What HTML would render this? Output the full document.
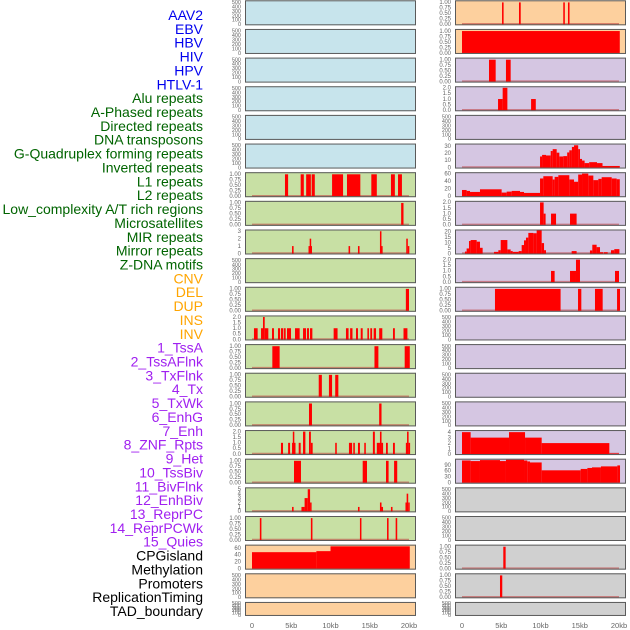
<!DOCTYPE html>
<html><head><meta charset="utf-8">
<style>
html,body{margin:0;padding:0;background:#fff;}
svg{display:block;font-family:"Liberation Sans",sans-serif;}
</style></head>
<body>
<svg id="chart" width="630" height="630" viewBox="0 0 630 630"></svg>
<script>
// ---------- data ----------
const trackLabels = ["AAV2","EBV","HBV","HIV","HPV","HTLV-1","Alu repeats","A-Phased repeats","Directed repeats","DNA transposons","G-Quadruplex forming repeats","Inverted repeats","L1 repeats","L2 repeats","Low_complexity A/T rich regions","Microsatellites","MIR repeats","Mirror repeats","Z-DNA motifs","CNV","DEL","DUP","INS","INV","1_TssA","2_TssAFlnk","3_TxFlnk","4_Tx","5_TxWk","6_EnhG","7_Enh","8_ZNF_Rpts","9_Het","10_TssBiv","11_BivFlnk","12_EnhBiv","13_ReprPC","14_ReprPCWk","15_Quies","CPGisland","Methylation","Promoters","ReplicationTiming","TAD_boundary"];
const labelColors = ["#0000ee","#0000ee","#0000ee","#0000ee","#0000ee","#0000ee","#006400","#006400","#006400","#006400","#006400","#006400","#006400","#006400","#006400","#006400","#006400","#006400","#006400","#ffa500","#ffa500","#ffa500","#ffa500","#ffa500","#a020f0","#a020f0","#a020f0","#a020f0","#a020f0","#a020f0","#a020f0","#a020f0","#a020f0","#a020f0","#a020f0","#a020f0","#a020f0","#a020f0","#a020f0","#000","#000","#000","#000","#000"];
const xTicks = [0,5,10,15,20];
const xTickLabels = ["0","5kb","10kb","15kb","20kb"];

// left column bars [startKb, endKb, value]
const L6 = [[4.2,4.6,1],[6.2,6.6,1],[6.9,7.5,1],[7.6,8.0,1],[10.2,11.6,1],[12.1,13.8,1],[15.2,15.9,1],[17.7,18.2,1],[18.6,19.1,1]];
const L7 = [[19.0,19.3,1]];
const L8 = [[5.1,5.3,1],[7.2,7.35,1],[7.35,7.45,2],[7.45,7.6,1],[12.3,12.5,1],[13.5,13.7,1],[16.3,16.45,3],[16.45,16.6,1],[19.65,19.85,2],[19.85,19.95,1]];
const L10 = [[19.6,20.0,1]];
const L11 = [[0.25,0.72,1],[1.15,1.4,1],[1.4,1.62,2],[1.62,2.08,1],[2.55,2.8,1],[3.31,3.57,1],[3.69,3.99,1],[4.08,4.29,1],[4.46,4.97,1],[5.48,6.07,1],[6.5,6.88,1],[7.0,7.26,1],[7.39,7.69,1],[10.4,10.9,1],[11.97,12.3,1],[12.5,12.8,1],[13.25,13.5,1],[13.85,14.1,1],[14.7,14.9,1],[15.07,15.3,1],[15.5,15.8,1],[16.2,16.6,1],[17.96,18.2,1],[19.3,19.8,1]];
const L12 = [[2.59,3.52,1],[15.6,16.1,1],[19.45,20.1,1]];
const L13 = [[8.5,8.9,1],[9.8,10.2,1],[10.6,11.0,1]];
const L14 = [[7.26,7.64,1],[16.2,16.5,1]];
const L15 = [[3.69,3.95,1],[4.6,4.85,1],[5.1,5.2,1],[5.2,5.35,2],[5.35,5.4,1],[5.95,6.2,1],[6.5,6.8,2],[7.26,7.5,2],[7.5,7.73,1],[10.6,10.8,1],[12.35,12.75,1],[12.9,13.1,1],[13.5,13.75,1],[14.3,14.5,1],[15.4,15.65,2],[15.9,16.3,1],[16.3,16.5,2],[16.5,16.7,1],[17.07,17.3,1],[17.96,18.2,1],[19.6,19.75,1],[19.75,19.95,2],[19.95,20.1,1]];
const L16 = [[5.35,6.24,1],[14.1,14.65,1],[17.07,17.4,1],[18.1,18.5,1]];
const L17 = [[5.1,5.3,1],[6.3,6.7,1],[6.7,7.1,3],[7.1,7.4,5],[7.4,7.55,2],[13.5,13.7,1],[16.3,16.5,2],[16.5,16.6,1],[17.7,17.9,1],[19.55,19.7,2],[19.7,19.9,4],[19.9,20.0,2]];
const L18 = [[1.0,1.2,1],[7.5,7.7,1],[13.75,13.9,1],[17.2,17.4,1],[18.3,18.5,1]];
const L19 = [[0,8.2,48],[8.2,10,51],[10,20.1,65]];

// right column bars
const R0 = [[5.1,5.3,1],[7.26,7.48,1],[12.9,13.1,1],[13.5,13.7,1]];
const R1 = [[0,20.1,1]];
const R2 = [[3.44,4.29,1],[5.6,6.2,1]];
const R3 = [[4.59,5.18,1],[5.18,5.78,2],[8.8,9.4,1]];
const R5 = [[9.94,10.2,15.4],[10.2,10.7,17.6],[10.7,11.3,16.8],[11.3,11.55,23],[11.55,12.06,25.6],[12.06,12.4,20.7],[12.4,12.9,15.4],[12.9,13.4,15.9],[13.4,13.67,21],[13.67,14.0,24],[14.0,14.27,28.7],[14.27,14.8,31],[14.8,15.03,25.6],[15.03,15.29,12],[15.29,15.62,9.7],[15.62,16.2,6.2],[16.2,17.2,7.5],[17.2,17.9,6.2],[17.9,20.1,2.2]];
const R6 = [[0,0.59,16.5],[0.59,1.02,14],[1.02,2.29,11.3],[2.29,5.05,18.3],[5.05,5.69,9.6],[5.69,6.33,12.2],[6.33,7.39,14],[7.39,7.9,11.3],[7.9,9.94,8.7],[9.94,10.36,47],[10.36,11.55,53],[11.55,11.8,44.3],[11.8,12.27,51.3],[12.27,13.67,55.7],[13.67,14.27,44.3],[14.27,14.8,38.3],[14.8,15.29,57.4],[15.29,16.09,60],[16.09,16.73,54.8],[16.73,17.37,42.6],[17.37,17.79,46],[17.79,19.07,50.4],[19.07,19.7,47],[19.7,20.1,45]];
const R7 = [[9.94,10.4,2],[10.4,10.65,1],[11.34,11.98,1],[13.76,14.6,1]];
const R8 = [[0.38,0.59,1.8],[0.59,0.89,4.6],[0.89,1.1,11.4],[1.1,1.87,12.3],[1.87,2.29,10.8],[2.29,2.63,5.2],[4.08,4.63,1.5],[4.63,4.93,3],[4.93,5.78,12.3],[5.78,6.2,3.7],[6.2,6.46,2.2],[6.46,7.22,1.5],[7.22,7.6,2.2],[7.6,7.9,7.7],[7.9,8.15,12],[8.15,8.45,14.5],[8.45,9.09,18.8],[9.09,9.51,18.5],[9.51,10.15,21],[10.15,10.45,9.5],[10.45,10.7,3],[13.97,14.6,2.2],[16.3,16.6,2.8],[16.6,17.15,8],[17.15,17.58,5.8],[17.58,18.0,1.2],[18.09,18.56,1.2],[18.98,19.4,3],[19.4,20.05,4]];
const R9 = [[11.34,11.8,1],[13.76,14.52,1],[14.52,15.03,2],[19.49,20.0,1]];
const R10 = [[4.2,12.56,1],[14.78,15.2,1],[16.94,17.92,1],[19.75,20.13,1]];
const R15 = [[0,1.1,4],[1.1,5.99,3],[5.99,8.03,4],[8.03,10.15,3],[10.15,18.77,2],[18.77,20,0.1]];
const R16 = [[0,1.1,113],[1.1,2.29,110],[2.29,4.84,115],[4.84,5.6,110],[5.6,7.9,117],[7.9,8.32,113],[8.32,8.66,108],[8.66,10.15,103],[10.15,15.12,63],[15.12,15.97,70],[15.97,16.56,75],[16.56,17.7,78],[17.7,19.79,83],[19.79,20.13,88]];
const R19 = [[5.26,5.56,1]];
const R20 = [[4.84,5.13,1]];

// y-axis configs: [ymax, ticks]
const T1 = [1.05,[0,0.25,0.5,0.75,1],2];
const T2 = [2.05,[0,0.5,1,1.5,2],1];
const TE = [520,[0,100,200,300,400,500],0];

const leftTracks = [null,null,null,null,null,null,L6,L7,L8,null,L10,L11,L12,L13,L14,L15,L16,L17,L18,L19,null,null];
const leftAxes = [TE,TE,TE,TE,TE,TE,T1,T1,[3.1,[0,1,2,3],0],TE,T1,T2,T1,T1,T1,T2,T1,[5.2,[0,1,2,3,4,5],0],T1,[67,[0,20,40,60],0],TE,TE];
const rightTracks = [R0,R1,R2,R3,null,R5,R6,R7,R8,R9,R10,null,null,null,null,R15,R16,null,null,R19,R20,null];
const rightAxes = [T1,T1,T1,T2,TE,[32,[0,10,20,30],0],[61,[0,20,40,60],0],T2,[21,[0,5,10,15,20],0],T2,T1,TE,TE,TE,TE,[4.2,[0,1,2,3,4],0],[117,[0,30,60,90],0],TE,TE,T1,T1,TE];

const leftBg = i => i<6 ? "#c7e4ec" : (i<19 ? "#c8e0a4" : "#fdd09e");
const rightBg = i => i<2 ? "#fdd09e" : (i<17 ? "#d5c6e2" : "#d0d0d0");

// ---------- drawing ----------
const svg = document.getElementById('chart');
const NS = "http://www.w3.org/2000/svg";
function mk(tag, attrs, parent){
  const e = document.createElementNS(NS, tag);
  for (const k in attrs) e.setAttribute(k, attrs[k]);
  (parent||svg).appendChild(e);
  return e;
}
const KB = 7.85;
const rowTop = i => 0.3 + 28.65*i;
const rowH = i => i===21 ? 14 : 25;

// labels
const labelPitch = (611-15)/(trackLabels.length-1);
trackLabels.forEach((t,i)=>{
  const e = mk('text',{x:203,y:15+labelPitch*i+5,'text-anchor':'end','font-size':'14',fill:labelColors[i]});
  e.textContent = t;
  
  
});

function drawPanel(col, i, bars, axis){
  const px = col===0 ? 245 : 455;
  const x0 = col===0 ? 252 : 462;
  const xs = kb => x0 + kb*KB;
  const top = rowTop(i), h = rowH(i);
  const g = mk('g',{});
  
  
  mk('rect',{x:px,y:top,width:171,height:h,fill:col===0?leftBg(i):rightBg(i)},g);
  const [ymax, ticks, dec] = axis;
  const yb = top + h - 1, yt = top + 1;
  const ys = v => yb - (v/ymax)*(yb-yt);
  ticks.forEach(v=>{
    const tl = mk('text',{x:px-4,y:ys(v)+1.8,'text-anchor':'end','font-size':bars?'6':'5.5',fill:'#666'},g);
    tl.textContent = dec ? v.toFixed(dec) : String(v);
    
    
  });
  if (bars){
    mk('line',{x1:xs(0),x2:xs(20),y1:yb-0.5,y2:yb-0.5,stroke:'rgba(190,60,60,0.55)','stroke-width':1.5},g);
    bars.forEach(b=>{
      const x1 = xs(b[0]), x2 = xs(b[1]);
      const y = Math.max(yt, ys(b[2]));
      const r = mk('rect',{x:x1,y:y,width:Math.max(1.5,x2-x1),height:yb-y,fill:'#ff0000'},g);
      
      
    });
  }
  mk('rect',{x:px+0.5,y:top+0.5,width:170,height:h-1,fill:'none',stroke:'#5a5a5a','stroke-width':1},g);
}
for (let i=0;i<22;i++){
  drawPanel(0,i,leftTracks[i],leftAxes[i]);
  drawPanel(1,i,rightTracks[i],rightAxes[i]);
}
// x axis labels
[252,462].forEach((x0,c)=>{
  xTicks.forEach((v,k)=>{
    const t = mk('text',{x:x0+v*KB,y:628,'text-anchor':'middle','font-size':'7.5',fill:'#666'});
    t.textContent = xTickLabels[k];
    
    
  });
});
</script>
</body></html>
